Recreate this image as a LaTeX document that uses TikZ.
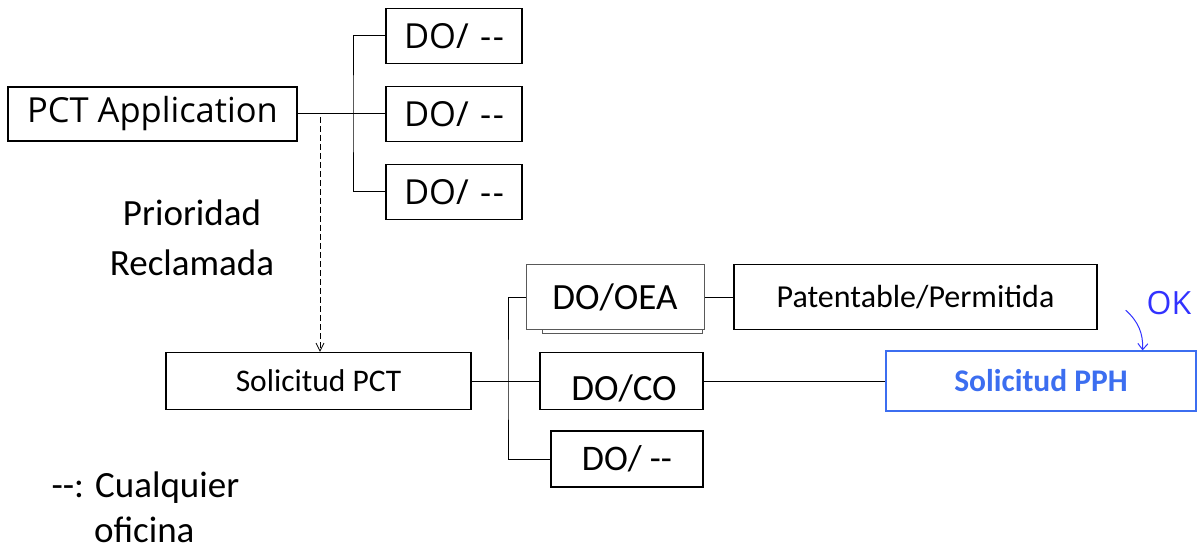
\documentclass[tikz,border=0pt]{standalone}
\usepackage{fontspec}
\setmainfont{Carlito}
\newfontfamily\gulimish{Open Sans}
\usetikzlibrary{arrows.meta, positioning}
\definecolor{pphblue}{RGB}{60,110,240}
\definecolor{okblue}{RGB}{50,50,255}

\begin{document}
\begin{tikzpicture}[x=1pt, y=-1pt,
		box/.style={draw, inner sep=0pt, line width=1.2pt},
		topbox/.style={box, font=\gulimish\fontsize{34.5}{38}\selectfont},
		link/.style={line width=1pt}]
	\useasboundingbox (0,0) rectangle (1204,553);
	% upper tree
	\node[topbox, minimum width=289pt, minimum height=54pt] (app) at (152.5,114) {PCT Application};
	\node[topbox, minimum width=136pt, minimum height=55pt] (t1) at (454,36) {DO/\,\,-\kern1.5pt-};
	\node[topbox, minimum width=136pt, minimum height=55pt] (t2) at (454,114) {DO/\,\,-\kern1.5pt-};
	\node[topbox, minimum width=136pt, minimum height=55pt] (t3) at (454,192) {DO/\,\,-\kern1.5pt-};
	\coordinate (tsplit) at (353,114);
	\draw[link] (app.east) -- (t2.west);
	\draw[link] (t1.west) -| (tsplit) |- (t3.west);
	
	\node[font=\fontsize{37}{50}\selectfont, align=center] (prio) at (192,238) {Prioridad\\Reclamada};
	
	% lower tree
	\node[box, font=\fontsize{31.5}{36}\selectfont, minimum width=305pt, minimum height=57pt] (sol) at (318.5,381) {Solicitud PCT};
	\coordinate (apparrow) at (320,117);
	\draw[dash pattern=on 6pt off 3pt, line width=0.8pt, -{Straight Barb[length=8pt, width=8pt]}] (apparrow) -- (sol.north -| apparrow);
	
	\node[box, draw=gray!70!black, line width=0.9pt, fill=white, minimum width=160pt, minimum height=62pt] (oeashadow) at (622,302) {};
	\node[box, draw=gray!70!black, line width=1pt, fill=white, font=\fontsize{37}{40}\selectfont, minimum width=178pt, minimum height=65pt] (oea) at (615,297) {DO/OEA};
	\node[box, line width=1.6pt, font=\fontsize{37}{40}\selectfont, minimum width=163pt, minimum height=57pt, text height=40pt, text depth=2pt] (co) at (621.5,381) {\hspace*{5pt}DO/CO};
	\node[box, font=\fontsize{36}{40}\selectfont, minimum width=152pt, minimum height=56pt] (d3) at (627,459) {DO/ -{}-};
	\coordinate (bsplit) at (508,381);
	\draw[link] (sol.east) -- (co.west);
	\draw[link] (oea.west) -| (bsplit) |- (d3.west);
	
	\node[box, line width=1.4pt, font=\fontsize{32}{36}\selectfont, minimum width=363pt, minimum height=65pt] (pat) at (915.5,297) {Patentable/Permitida};
	\node[box, draw=pphblue, line width=1.2pt, text=pphblue, font=\bfseries\fontsize{31.5}{36}\selectfont, minimum width=310pt, minimum height=60pt] (pph) at (1041,381) {Solicitud PPH};
	\draw[link] (oea.east) -- (pat.west);
	\draw[link] (co.east) -- (pph.west);
	
	\node[text=okblue, font=\gulimish\fontsize{32}{36}\selectfont] (ok) at (1169,303) {OK};
	\draw[okblue, line width=1pt, -{Straight Barb[length=6pt, width=10pt]}] (pat.south east) ++(28,-20) coordinate (okstart) to[bend left=25] ([xshift=-54pt]pph.north east);
	
	% legend
	\node[font=\fontsize{37}{45}\selectfont, align=left, anchor=base west] (legend) at (48,542) {-{}-: Cualquier\\\hspace{1.15em}oficina};
\end{tikzpicture}
\end{document}
